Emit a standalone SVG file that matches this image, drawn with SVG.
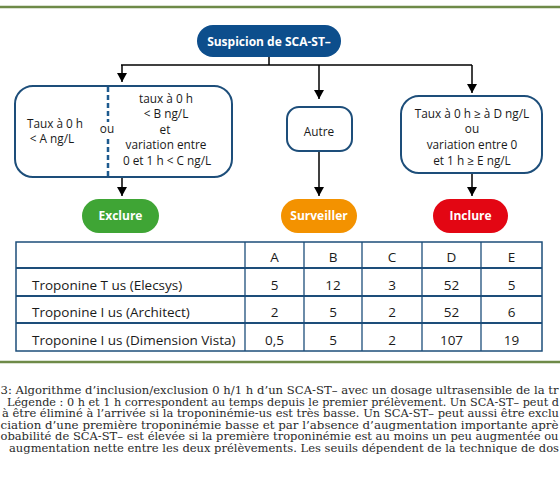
<svg xmlns="http://www.w3.org/2000/svg" width="560" height="489" viewBox="0 0 560 489">
<style>
.sep{stroke:#6e8a48;stroke-width:2.5}
.box{fill:#fff;stroke:#1d4e7a;stroke-width:2}
.t{font-family:"Open Sans","Noto Sans",sans-serif;font-size:11.8px;fill:#1a1a1a;text-anchor:middle}
.lbl{font-family:"Open Sans","Noto Sans",sans-serif;font-weight:bold;font-size:12px;fill:#fff;text-anchor:middle}
.tb{font-family:"Open Sans","Noto Sans",sans-serif;font-size:13.5px;fill:#1a1a1a}
.num{text-anchor:middle}
.cap{font-family:"DejaVu Serif","Liberation Serif",serif;font-size:11px;fill:#2a2a2a}
.con{stroke:#000;stroke-width:1.5;fill:none}
.hl{stroke:#1d4e7a;stroke-width:2.2}
.vl{stroke:#1d4e7a;stroke-width:1.3}
</style>
<defs>
<marker id="ah" markerUnits="userSpaceOnUse" markerWidth="9" markerHeight="10" refX="9" refY="5" orient="auto" viewBox="0 0 9 10">
<path d="M0,0 L9,5 L0,10 z" fill="#000"/>
</marker>
</defs>
<rect width="560" height="489" fill="#fff"/>
<line class="sep" x1="0" y1="7" x2="560" y2="7"/>

<g id="connectors">
<path class="con" d="M269,57 V65"/>
<path class="con" d="M121,65 H472"/>
<path class="con" d="M122,65 V82" marker-end="url(#ah)"/>
<path class="con" d="M319,65 V99" marker-end="url(#ah)"/>
<path class="con" d="M472,65 V93" marker-end="url(#ah)"/>
<path class="con" d="M122,177 V196" marker-end="url(#ah)"/>
<path class="con" d="M319,151 V196" marker-end="url(#ah)"/>
<path class="con" d="M472,173 V196" marker-end="url(#ah)"/>
</g>

<g id="suspicion">
<rect x="197" y="25" width="144" height="32" rx="16" fill="#0d4e8c"/>
<text class="lbl" x="269" y="45.5">Suspicion de SCA-ST–</text>
</g>

<g id="exclusion-criteria">
<rect class="box" x="15" y="86" width="217" height="91" rx="18"/>
<line x1="108" y1="87" x2="108" y2="122" stroke="#1d5a8e" stroke-width="2.5" stroke-dasharray="5,3"/>
<line x1="108" y1="139" x2="108" y2="176" stroke="#1d5a8e" stroke-width="2.5" stroke-dasharray="5,3"/>
<text class="t" x="55" y="128">Taux à 0 h</text>
<text class="t" x="52" y="143">&lt; A ng/L</text>
<text class="t" x="107" y="133">ou</text>
<text class="t" x="166" y="103">taux à 0 h</text>
<text class="t" x="166" y="118">&lt; B ng/L</text>
<text class="t" x="165" y="134">et</text>
<text class="t" x="166" y="149">variation entre</text>
<text class="t" x="167" y="165">0 et 1 h &lt; C ng/L</text>
</g>

<g id="autre">
<rect class="box" x="287" y="107" width="65" height="44" rx="12"/>
<text class="t" x="319" y="136">Autre</text>
</g>

<g id="inclusion-criteria">
<rect class="box" x="401" y="96" width="141" height="77" rx="18"/>
<text class="t" x="472" y="118">Taux à 0 h ≥ à D ng/L</text>
<text class="t" x="472" y="133">ou</text>
<text class="t" x="472" y="149">variation entre 0</text>
<text class="t" x="472" y="165">et 1 h ≥ E ng/L</text>
</g>

<g id="exclure">
<rect x="82" y="199" width="77" height="34" rx="17" fill="#3fa535"/>
<text class="lbl" x="120.5" y="220">Exclure</text>
</g>
<g id="surveiller">
<rect x="281" y="199" width="76" height="34" rx="17" fill="#f39200"/>
<text class="lbl" x="319" y="220">Surveiller</text>
</g>
<g id="inclure">
<rect x="433" y="199" width="75" height="34" rx="17" fill="#e30613"/>
<text class="lbl" x="470.5" y="220">Inclure</text>
</g>

<g id="table">
<rect x="16" y="242" width="526" height="109" fill="none" stroke="#1d4e7a" stroke-width="1.5"/>
<line class="hl" x1="16" y1="268" x2="542" y2="268"/>
<line class="hl" x1="16" y1="296" x2="542" y2="296"/>
<line class="hl" x1="16" y1="323" x2="542" y2="323"/>
<line class="vl" x1="245" y1="242" x2="245" y2="351"/>
<line class="vl" x1="304" y1="242" x2="304" y2="351"/>
<line class="vl" x1="362" y1="242" x2="362" y2="351"/>
<line class="vl" x1="422" y1="242" x2="422" y2="351"/>
<line class="vl" x1="481" y1="242" x2="481" y2="351"/>
<g class="tb num">
<text x="274.5" y="262">A</text><text x="333" y="262">B</text><text x="392" y="262">C</text><text x="451.5" y="262">D</text><text x="511.5" y="262">E</text>
<text x="274.5" y="290">5</text><text x="333" y="290">12</text><text x="392" y="290">3</text><text x="451.5" y="290">52</text><text x="511.5" y="290">5</text>
<text x="274.5" y="317">2</text><text x="333" y="317">5</text><text x="392" y="317">2</text><text x="451.5" y="317">52</text><text x="511.5" y="317">6</text>
<text x="274.5" y="345">0,5</text><text x="333" y="345">5</text><text x="392" y="345">2</text><text x="451.5" y="345">107</text><text x="511.5" y="345">19</text>
</g>
<text class="tb" x="32" y="290">Troponine T us (Elecsys)</text>
<text class="tb" x="32" y="317">Troponine I us (Architect)</text>
<text class="tb" x="32" y="345">Troponine I us (Dimension Vista)</text>
</g>

<line class="sep" x1="0" y1="362" x2="560" y2="362"/>

<g id="caption">
<text class="cap" x="0.5" y="394" textLength="558" lengthAdjust="spacingAndGlyphs">3: Algorithme d’inclusion/exclusion 0 h/1 h d’un SCA-ST– avec un dosage ultrasensible de la tr</text>
<text class="cap" x="7" y="405.5" textLength="552" lengthAdjust="spacingAndGlyphs">Légende : 0 h et 1 h correspondent au temps depuis le premier prélèvement. Un SCA-ST– peut d</text>
<text class="cap" x="2" y="417" textLength="557" lengthAdjust="spacingAndGlyphs">à être éliminé à l’arrivée si la troponinémie-us est très basse. Un SCA-ST– peut aussi être exclu</text>
<text class="cap" x="0.5" y="428.5" textLength="558" lengthAdjust="spacingAndGlyphs">ciation d’une première troponinémie basse et par l’absence d’augmentation importante aprè</text>
<text class="cap" x="0.5" y="440" textLength="558" lengthAdjust="spacingAndGlyphs">obabilité de SCA-ST– est élevée si la première troponinémie est au moins un peu augmentée ou</text>
<text class="cap" x="9" y="451.5" textLength="550" lengthAdjust="spacingAndGlyphs">augmentation nette entre les deux prélèvements. Les seuils dépendent de la technique de dos</text>
</g>
</svg>
